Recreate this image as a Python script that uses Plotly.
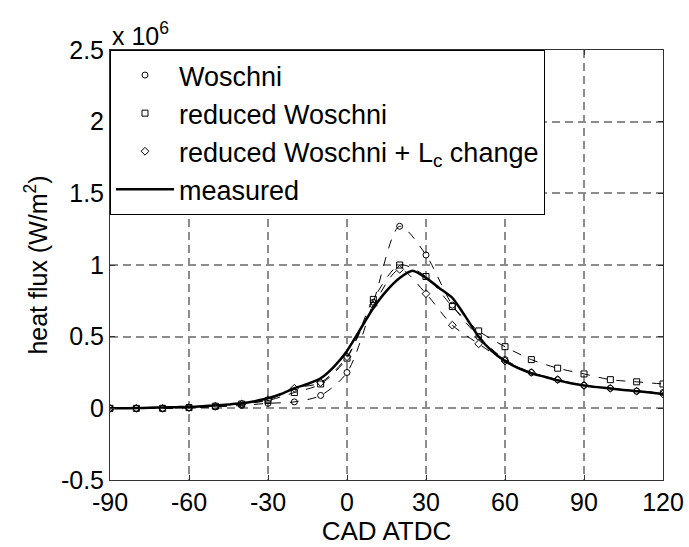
import plotly.graph_objects as go

# ---- data (heat flux in units of 1e6 W/m^2) ----
cad_sim = [-90, -80, -70, -60, -50, -40, -30, -20, -10, 0, 10, 20, 30, 40, 50, 60, 70, 80, 90, 100, 110, 120]
woschni = [0.0, 0.0, 0.0, 0.005, 0.01, 0.02, 0.035, 0.045, 0.09, 0.25, 0.74, 1.27, 1.07, 0.72, 0.50, 0.34, 0.25, 0.20, 0.16, 0.14, 0.12, 0.11]
reduced_woschni = [0.0, 0.0, 0.0, 0.005, 0.015, 0.03, 0.055, 0.11, 0.17, 0.35, 0.76, 1.00, 0.92, 0.71, 0.54, 0.43, 0.34, 0.28, 0.24, 0.20, 0.185, 0.17]
reduced_woschni_lc = [0.0, 0.0, 0.0, 0.005, 0.015, 0.03, 0.06, 0.14, 0.18, 0.36, 0.72, 0.97, 0.80, 0.58, 0.45, 0.33, 0.25, 0.20, 0.16, 0.14, 0.12, 0.10]

cad_meas = list(range(-90, 121, 5))
measured = [0.0, 0.0, 0.002, 0.004, 0.006, 0.008, 0.01, 0.015, 0.02, 0.027, 0.035, 0.05,
            0.07, 0.10, 0.14, 0.17, 0.21, 0.29, 0.40, 0.55, 0.70, 0.82, 0.91, 0.96,
            0.91, 0.84, 0.77, 0.64, 0.50, 0.40, 0.33, 0.28, 0.245, 0.22, 0.195, 0.175,
            0.16, 0.148, 0.138, 0.128, 0.12, 0.11, 0.10]

x_ticks = [-90, -60, -30, 0, 30, 60, 90, 120]
x_ticktext = ["-90", "-60", "-30", "0", "30", "60", "90", "120"]
y_ticks = [-0.5, 0, 0.5, 1, 1.5, 2, 2.5]
y_ticktext = ["-0.5", "0", "0.5", "1", "1.5", "2", "2.5"]

series = [
    ("Woschni", woschni, "circle-open"),
    ("reduced Woschni", reduced_woschni, "square-open"),
    ("reduced Woschni + L<sub>c</sub> change", reduced_woschni_lc, "diamond-open"),
]

FONT = "Liberation Sans, Arial, sans-serif"
fig = go.Figure()

for name, vals, sym in series:
    fig.add_trace(go.Scatter(x=cad_sim, y=vals, mode="lines", showlegend=False,
                             line=dict(color="black", width=1, dash="dash", shape="spline", smoothing=0.8),
                             hoverinfo="skip"))
for name, vals, sym in series:
    fig.add_trace(go.Scatter(x=cad_sim, y=vals, mode="markers", name=name,
                             marker=dict(symbol=sym, size=6, color="black", line=dict(width=1, color="black"))))

fig.add_trace(go.Scatter(x=cad_meas, y=measured, mode="lines", name="measured",
                         line=dict(color="black", width=2.5, shape="spline", smoothing=0.6)))

axis_common = dict(showline=True, linecolor="#333", linewidth=1, mirror="ticks",
                   ticks="inside", ticklen=5, tickcolor="#333", automargin=False,
                   showgrid=True, gridcolor="#8c8c8c", gridwidth=1.5, griddash="8px,5px",
                   zeroline=False, tickfont=dict(size=25, color="black", family=FONT))

fig.update_xaxes(range=[-90, 120], tickvals=x_ticks, ticktext=x_ticktext,
                 title=dict(text="CAD ATDC", font=dict(size=26, color="black", family=FONT), standoff=0),
                 **axis_common)
fig.update_yaxes(range=[-0.5, 2.5], tickvals=y_ticks, ticktext=y_ticktext,
                 title=dict(text="heat flux (W/m<sup>2</sup>)", font=dict(size=25, color="black", family=FONT), standoff=6),
                 **axis_common)

fig.add_annotation(xref="paper", yref="paper", x=0, y=1, xanchor="left", yanchor="bottom",
                   text="x 10<sup>6</sup>", showarrow=False, yshift=-2,
                   font=dict(size=25, color="black", family=FONT))

fig.update_layout(
    width=689, height=547,
    margin=dict(l=110, r=26, t=50, b=67),
    paper_bgcolor="white", plot_bgcolor="white",
    font=dict(family=FONT, color="black"),
    legend=dict(x=0, y=1, xanchor="left", yanchor="top", bgcolor="white",
                bordercolor="black", borderwidth=1, font=dict(size=27, color="black", family=FONT),
                itemwidth=58, tracegroupgap=0),
)

fig.write_html("out.html")
